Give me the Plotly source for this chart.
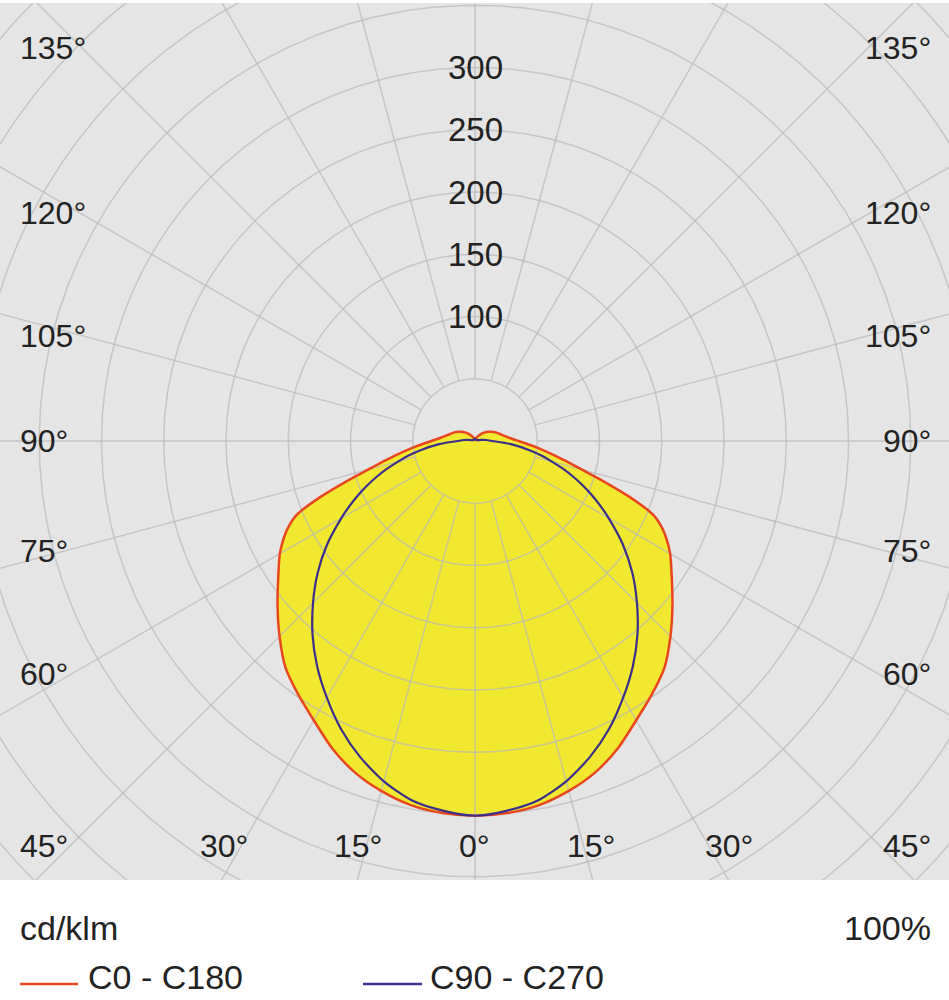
import numpy as np
import plotly.graph_objects as go

# ---------------- data ----------------
gamma = [0, 5, 10, 15, 20, 25, 30, 35, 40, 45, 50, 55, 60, 62.5, 65, 67.5, 70,
         72.5, 75, 77.5, 80, 85, 90, 95, 100, 105, 110, 115, 120, 125, 130,
         135, 140, 145, 150, 155, 160, 165, 170, 175, 180]
c0_c180 = [301, 300, 297, 291, 283, 272, 259, 248, 237, 222, 207, 193, 181, 174,
           166, 155, 133, 109, 89, 75, 64, 47, 35, 28, 24, 21, 19, 17, 15, 13,
           11, 9, 7, 5.5, 4, 3, 2.5, 2, 1.5, 1, 1]
c90_c270 = [301, 298, 293, 283, 270, 255, 238, 221, 203, 184, 165, 145, 124, 114,
            104, 94, 84, 74, 64, 55, 46, 29, 14, 9, 5, 3, 2, 1.5, 1.5, 1.5, 1.5,
            1.5, 1.5, 1.5, 1.5, 1.5, 1.5, 1.5, 1.5, 1.5, 1.5]
series_names = ["C0 - C180", "C90 - C270"]
ring_values = [50, 100, 150, 200, 250, 300, 350, 400, 450, 500]
ring_labels = [100, 150, 200, 250, 300]
radial_step = 15
side_labels = ["135°", "120°", "105°", "90°", "75°", "60°", "45°"]
bottom_labels = ["30°", "15°", "0°", "15°", "30°"]
unit_label = "cd/klm"
percent_label = "100%"

# ---------------- styles ----------------
W, H = 949, 1000
PLOT_TOP = 3
PLOT_BOTTOM = 880
CX, CY = 475, 441          # pixel position of the polar origin
SCALE = 1.245              # pixels per cd/klm
BG = "#e5e5e5"
GRID = "rgba(185,185,185,0.72)"
YELLOW = "#f1e830"
RED = "#e8461e"
BLUE = "#3b2e8c"
TXT = "#222222"
FONT = "Liberation Sans, Arial, Helvetica, sans-serif"
FS = 32
FS_BOTTOM = 34


def curve(g, r):
    g = np.asarray(g, float)
    r = np.asarray(r, float)
    ang = np.concatenate([-g[::-1], g[1:]])
    rr = np.concatenate([r[::-1], r[1:]])
    th = np.radians(ang)
    return rr * np.sin(th), -rr * np.cos(th)


fig = go.Figure()

xr, yr = curve(gamma, c0_c180)
xb, yb = curve(gamma, c90_c270)

# yellow area
fig.add_trace(go.Scatter(x=xr, y=yr, mode="lines", fill="toself",
                         fillcolor=YELLOW, line=dict(width=0, shape="spline", smoothing=0.7),
                         hoverinfo="skip", showlegend=False))

# grid circles
t = np.linspace(0, 2 * np.pi, 721)
gx, gy = [], []
for rv in ring_values:
    gx += list(rv * np.cos(t)) + [None]
    gy += list(rv * np.sin(t)) + [None]
fig.add_trace(go.Scatter(x=gx, y=gy, mode="lines", line=dict(color=GRID, width=1.5),
                         hoverinfo="skip", showlegend=False))

# radial grid lines
lx, ly = [], []
for a in range(0, 360, radial_step):
    th = np.radians(a)
    lx += [ring_values[0] * np.sin(th), 800 * np.sin(th), None]
    ly += [-ring_values[0] * np.cos(th), -800 * np.cos(th), None]
fig.add_trace(go.Scatter(x=lx, y=ly, mode="lines", line=dict(color=GRID, width=1.5),
                         hoverinfo="skip", showlegend=False))

# curves
fig.add_trace(go.Scatter(x=xr, y=yr, mode="lines", name=series_names[0],
                         line=dict(color=RED, width=2.5, shape="spline", smoothing=0.7),
                         showlegend=False))
fig.add_trace(go.Scatter(x=xb, y=yb, mode="lines", name=series_names[1],
                         line=dict(color=BLUE, width=2.2, shape="spline", smoothing=0.7),
                         showlegend=False))

x_rng = [-CX / SCALE, (W - CX) / SCALE]
y_rng = [-(PLOT_BOTTOM - CY) / SCALE, (CY - PLOT_TOP) / SCALE]
fig.update_xaxes(range=x_rng, visible=False, fixedrange=True)
fig.update_yaxes(range=y_rng, visible=False, fixedrange=True,
                 domain=[1 - PLOT_BOTTOM / H, 1 - PLOT_TOP / H])


def px(x):
    return x / W


def py(y):
    return 1 - y / H


ann = []
# radial value labels, placed on the rings
for v in ring_labels:
    ann.append(dict(x=0, y=v, xref="x", yref="y", text=str(v), showarrow=False,
                    xanchor="center", yanchor="middle",
                    font=dict(family=FONT, size=FS + 1, color=TXT)))

side_y = [48, 213, 336, 441, 551, 674, 846]
for lab, yy in zip(side_labels, side_y):
    ann.append(dict(x=px(18), y=py(yy), xref="paper", yref="paper", text=lab,
                    showarrow=False, xanchor="left", yanchor="middle",
                    font=dict(family=FONT, size=FS, color=TXT)))
    ann.append(dict(x=px(933), y=py(yy), xref="paper", yref="paper", text=lab,
                    showarrow=False, xanchor="right", yanchor="middle",
                    font=dict(family=FONT, size=FS, color=TXT)))

bottom_x = [224, 358, 474, 591, 729]
for lab, xx in zip(bottom_labels, bottom_x):
    ann.append(dict(x=px(xx), y=py(846), xref="paper", yref="paper", text=lab,
                    showarrow=False, xanchor="center", yanchor="middle",
                    font=dict(family=FONT, size=FS, color=TXT)))

ann.append(dict(x=px(18), y=py(928), xref="paper", yref="paper", text=unit_label,
                showarrow=False, xanchor="left", yanchor="middle",
                font=dict(family=FONT, size=FS_BOTTOM, color=TXT)))
ann.append(dict(x=px(933), y=py(928), xref="paper", yref="paper", text=percent_label,
                showarrow=False, xanchor="right", yanchor="middle",
                font=dict(family=FONT, size=FS_BOTTOM, color=TXT)))

# legend
ann.append(dict(x=px(87), y=py(977), xref="paper", yref="paper", text=series_names[0],
                showarrow=False, xanchor="left", yanchor="middle", borderpad=0,
                font=dict(family=FONT, size=FS_BOTTOM, color=TXT)))
ann.append(dict(x=px(429), y=py(977), xref="paper", yref="paper", text=series_names[1],
                showarrow=False, xanchor="left", yanchor="middle", borderpad=0,
                font=dict(family=FONT, size=FS_BOTTOM, color=TXT)))
shapes = [
    dict(type="line", xref="paper", yref="paper", x0=px(20), x1=px(78), y0=py(984), y1=py(984),
         line=dict(color=RED, width=2.5)),
    dict(type="line", xref="paper", yref="paper", x0=px(363), x1=px(422), y0=py(984), y1=py(984),
         line=dict(color=BLUE, width=2.5)),
]

fig.update_layout(width=W, height=H, margin=dict(l=0, r=0, t=0, b=0),
                  paper_bgcolor="white", plot_bgcolor=BG,
                  annotations=ann, shapes=shapes, showlegend=False)

fig.write_html("out.html", config={"displayModeBar": False},
               post_script="document.body.style.margin='0px';"
                           "document.body.style.padding='0px';"
                           "document.body.style.overflow='hidden';")
